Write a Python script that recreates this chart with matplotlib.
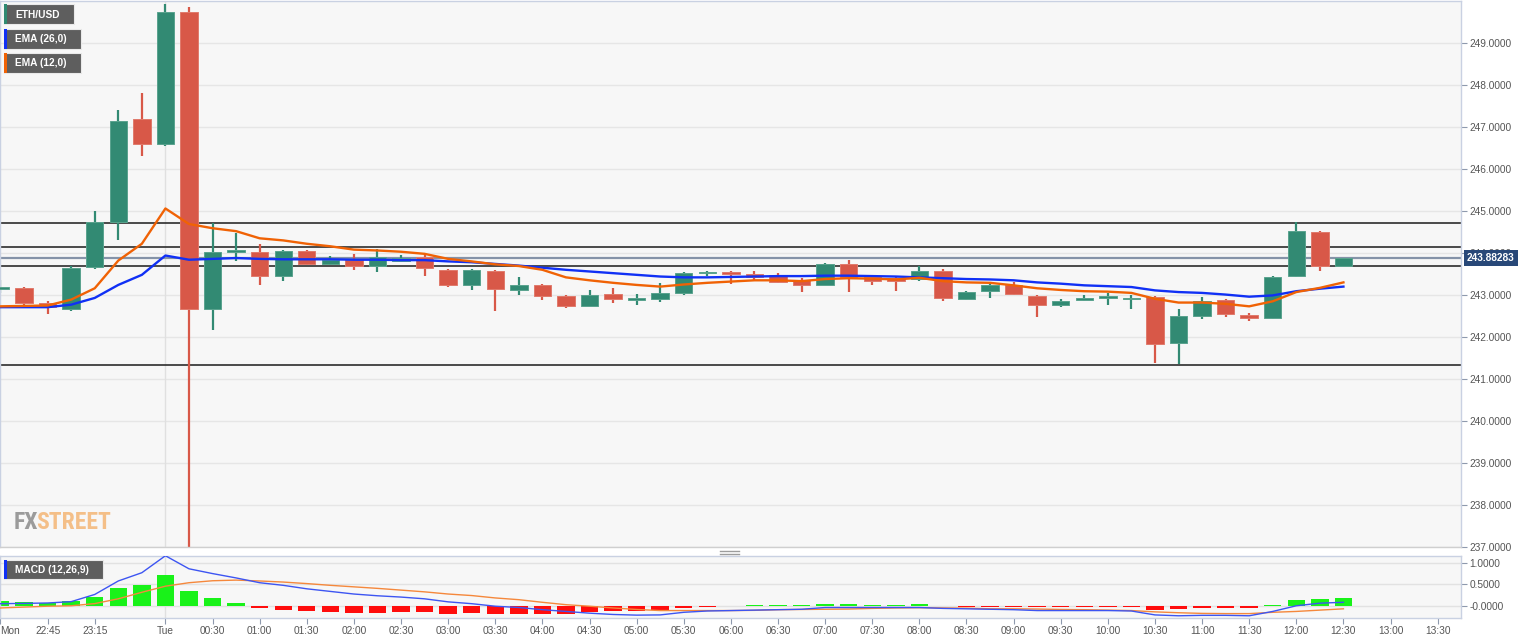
import matplotlib
matplotlib.use('Agg')
import matplotlib.pyplot as plt
import matplotlib.dates as mdates
from matplotlib.patches import Rectangle
from matplotlib.lines import Line2D
from matplotlib import font_manager
import numpy as np
import pandas as pd

plt.rcParams['font.family'] = ['Liberation Sans', 'DejaVu Sans']

# ---------------- data ----------------
start_time = '2020-07-06 22:15'
n_candles = 58
opens = [243.15, 243.16, 242.81, 242.67, 243.66, 244.75, 247.20, 246.60, 249.74, 242.67,
         244.02, 244.02, 243.46, 244.04, 243.74, 243.84, 243.68, 243.82, 243.90, 243.60,
         243.24, 243.58, 243.13, 243.25, 242.97, 242.75, 243.03, 242.89, 242.91, 243.05,
         243.52, 243.55, 243.51, 243.48, 243.35, 243.25, 243.74, 243.42, 243.40, 243.39,
         243.57, 242.91, 243.09, 243.25, 242.97, 242.77, 242.89, 242.93, 242.90, 242.95,
         241.86, 242.51, 242.89, 242.53, 242.45, 243.45, 244.51, 243.70]
highs = [243.35, 243.18, 242.85, 243.68, 244.99, 247.40, 247.82, 249.92, 249.86, 244.71,
         244.47, 244.21, 244.08, 244.07, 243.92, 243.98, 244.10, 243.96, 243.96, 243.62,
         243.62, 243.60, 243.44, 243.27, 243.00, 243.13, 243.17, 243.03, 243.28, 243.55,
         243.56, 243.57, 243.56, 243.52, 243.40, 243.76, 243.84, 243.44, 243.42, 243.70,
         243.61, 243.09, 243.27, 243.32, 242.99, 242.91, 243.00, 243.04, 243.01, 242.97,
         242.67, 242.96, 242.91, 242.57, 243.45, 244.75, 244.53, 243.88]
lows = [243.05, 242.77, 242.55, 242.63, 243.63, 244.30, 246.32, 246.55, 236.50, 242.16,
        243.80, 243.23, 243.33, 243.72, 243.72, 243.60, 243.54, 243.80, 243.45, 243.19,
        243.11, 242.61, 243.00, 242.89, 242.69, 242.73, 242.80, 242.77, 242.83, 242.99,
        243.45, 243.27, 243.33, 243.28, 243.08, 243.23, 243.07, 243.23, 243.09, 243.33,
        242.85, 242.87, 242.93, 243.01, 242.47, 242.71, 242.85, 242.77, 242.67, 241.37,
        241.35, 242.43, 242.47, 242.37, 242.42, 243.43, 243.57, 243.68]
closes = [243.17, 242.82, 242.71, 243.65, 244.75, 247.15, 246.60, 249.74, 242.67, 244.02,
          244.07, 243.45, 244.04, 243.74, 243.84, 243.70, 243.90, 243.88, 243.64, 243.24,
          243.60, 243.14, 243.23, 242.98, 242.73, 243.00, 242.91, 242.92, 243.04, 243.53,
          243.55, 243.50, 243.44, 243.30, 243.23, 243.74, 243.42, 243.33, 243.33, 243.57,
          242.93, 243.07, 243.25, 243.03, 242.77, 242.85, 242.93, 242.97, 242.93, 241.84,
          242.50, 242.85, 242.55, 242.46, 243.42, 244.53, 243.68, 243.88283]
ema12 = [242.73, 242.74, 242.75, 242.89, 243.16, 243.82, 244.22, 245.06, 244.69, 244.59,
         244.52, 244.35, 244.30, 244.22, 244.16, 244.08, 244.06, 244.03, 243.98, 243.86,
         243.80, 243.73, 243.69, 243.60, 243.42, 243.35, 243.29, 243.24, 243.20, 243.25,
         243.29, 243.32, 243.35, 243.35, 243.33, 243.38, 243.40, 243.39, 243.37, 243.41,
         243.33, 243.30, 243.29, 243.23, 243.16, 243.12, 243.09, 243.08, 243.05, 242.91,
         242.82, 242.82, 242.79, 242.73, 242.85, 243.07, 243.17, 243.30]
ema26 = [242.71, 242.71, 242.71, 242.77, 242.93, 243.24, 243.48, 243.94, 243.84, 243.86,
         243.88, 243.86, 243.85, 243.85, 243.85, 243.84, 243.84, 243.83, 243.83, 243.80,
         243.78, 243.74, 243.70, 243.65, 243.60, 243.56, 243.52, 243.48, 243.44, 243.42,
         243.42, 243.43, 243.44, 243.45, 243.45, 243.46, 243.46, 243.45, 243.44, 243.42,
         243.40, 243.38, 243.37, 243.35, 243.30, 243.27, 243.23, 243.21, 243.19, 243.11,
         243.07, 243.05, 243.01, 242.96, 242.99, 243.09, 243.15, 243.20]
macd_hist = [0.12, 0.10, 0.074, 0.128, 0.21, 0.42, 0.48, 0.72, 0.35, 0.18,
             0.07, -0.04, -0.08, -0.12, -0.135, -0.16, -0.16, -0.14, -0.14, -0.175,
             -0.16, -0.175, -0.17, -0.175, -0.18, -0.14, -0.12, -0.105, -0.08, -0.043,
             -0.01, 0.01, 0.027, 0.027, 0.02, 0.058, 0.05, 0.027, 0.02, 0.058,
             0.0, -0.01, -0.01, -0.027, -0.027, -0.027, -0.027, -0.027, -0.02, -0.08,
             -0.065, -0.035, -0.035, -0.035, 0.035, 0.15, 0.167, 0.18]
macd_line = [0.058, 0.065, 0.074, 0.105, 0.27, 0.58, 0.77, 1.16, 0.86, 0.75,
             0.65, 0.54, 0.48, 0.40, 0.34, 0.28, 0.24, 0.21, 0.17, 0.10,
             0.058, 0.0, -0.03, -0.08, -0.12, -0.16, -0.19, -0.205, -0.20, -0.14,
             -0.11, -0.10, -0.09, -0.08, -0.07, -0.03, -0.03, -0.03, -0.03, -0.03,
             -0.05, -0.06, -0.07, -0.08, -0.10, -0.10, -0.10, -0.10, -0.11, -0.20,
             -0.22, -0.21, -0.21, -0.22, -0.12, 0.01, 0.07, 0.09]
signal_line = [-0.04, -0.02, 0.0, 0.01, 0.06, 0.17, 0.32, 0.46, 0.54, 0.585,
               0.60, 0.58, 0.555, 0.52, 0.48, 0.445, 0.41, 0.37, 0.33, 0.28,
               0.245, 0.19, 0.15, 0.09, 0.035, 0.0, -0.04, -0.075, -0.10, -0.10,
               -0.10, -0.10, -0.095, -0.08, -0.075, -0.07, -0.065, -0.05, -0.04, -0.035,
               -0.04, -0.045, -0.06, -0.06, -0.065, -0.075, -0.08, -0.09, -0.10, -0.13,
               -0.15, -0.165, -0.17, -0.17, -0.14, -0.12, -0.09, -0.06]
level_lines = [244.71, 244.15, 243.70, 241.34]
last_price = 243.88283
price_ticks = [237, 238, 239, 240, 241, 242, 243, 244, 245, 246, 247, 248, 249]
macd_ticks = [1.0, 0.5, 0.0]
macd_tick_labels = ['1.0000', '0.5000', '-0.0000']
time_ticks = ['2020-07-06 22:15', '2020-07-06 22:45', '2020-07-06 23:15', '2020-07-07 00:00',
              '2020-07-07 00:30', '2020-07-07 01:00', '2020-07-07 01:30', '2020-07-07 02:00',
              '2020-07-07 02:30', '2020-07-07 03:00', '2020-07-07 03:30', '2020-07-07 04:00',
              '2020-07-07 04:30', '2020-07-07 05:00', '2020-07-07 05:30', '2020-07-07 06:00',
              '2020-07-07 06:30', '2020-07-07 07:00', '2020-07-07 07:30', '2020-07-07 08:00',
              '2020-07-07 08:30', '2020-07-07 09:00', '2020-07-07 09:30', '2020-07-07 10:00',
              '2020-07-07 10:30', '2020-07-07 11:00', '2020-07-07 11:30', '2020-07-07 12:00',
              '2020-07-07 12:30', '2020-07-07 13:00', '2020-07-07 13:30']
time_tick_labels = ['Mon', '22:45', '23:15', 'Tue', '00:30', '01:00', '01:30', '02:00',
                    '02:30', '03:00', '03:30', '04:00', '04:30', '05:00', '05:30', '06:00',
                    '06:30', '07:00', '07:30', '08:00', '08:30', '09:00', '09:30', '10:00',
                    '10:30', '11:00', '11:30', '12:00', '12:30', '13:00', '13:30']
day_break = '2020-07-07 00:00'

# ---------------- style ----------------
W, H = 1536, 641
GREEN = '#328a73'
RED = '#d85848'
GREEN_EDGE = '#5aa38e'
RED_EDGE = '#e07a6c'
BG = '#f7f7f7'
GRID = '#e6e6e6'
SPINE = '#c9d1e2'
TXT = '#555555'
FS = 7.3

times = pd.date_range(start_time, periods=n_candles, freq='15min')
x = mdates.date2num(times)
period = 15.0 / 1440.0
o = np.array(opens); c = np.array(closes); hi = np.array(highs); lo = np.array(lows)
up = c >= o

fig = plt.figure(figsize=(W / 100, H / 100), dpi=100)
fig.patch.set_facecolor('white')

def fx(px):
    return px / W

def fy(py):
    return 1 - py / H

ax = fig.add_axes([0, fy(547), fx(1461), (547 - 1) / H])
ax2 = fig.add_axes([0, fy(618), fx(1461), (618 - 556) / H])

xlim = (x[0] - 0.021 * period, x[0] + 61.99 * period)

# ----- main panel -----
ax.set_facecolor(BG)
ax.set_xlim(*xlim)
ax.set_ylim(237, 250.0)
ax.yaxis.tick_right()
ax.set_yticks(price_ticks)
ax.set_yticklabels(['%.4f' % v for v in price_ticks])
ax.tick_params(axis='y', length=4, width=0.8, color='#8e99ad', pad=2.2,
               labelsize=FS, labelcolor=TXT)
ax.tick_params(axis='x', length=0, labelbottom=False)
ax.grid(axis='y', color=GRID, lw=1)
ax.set_axisbelow(True)
for s in ax.spines.values():
    s.set_color(SPINE)
    s.set_linewidth(1)
ax.spines['bottom'].set_color('#cfcfcf')

dbx = mdates.date2num(pd.Timestamp(day_break))
ax.axvline(dbx, color='#e0e0e0', lw=1, zorder=0.8)

for lv in level_lines:
    ax.axhline(lv, color='#2d2d2d', lw=1.2, zorder=1.5)
ax.axhline(last_price, color='#8593a8', lw=1.6, zorder=1.6)

cw = 0.74 * period
ax.vlines(x, lo, hi, colors=[GREEN if u else RED for u in up], lw=1.6, zorder=2)
body_h = np.maximum(np.abs(c - o), 0.03)
ax.bar(x, body_h, bottom=np.minimum(o, c), width=cw,
       color=[GREEN if u else RED for u in up],
       edgecolor=[GREEN_EDGE if u else RED_EDGE for u in up], linewidth=0.7, zorder=3)

ax.plot(x, ema26, color='#1030f5', lw=1.7, zorder=4, solid_joinstyle='round')
ax.plot(x, ema12, color='#f06205', lw=1.7, zorder=4, solid_joinstyle='round')

ax.annotate('%.5f' % last_price, xy=(1.0041, last_price), xycoords=('axes fraction', 'data'),
            ha='left', va='center', fontsize=FS, color='white', fontweight='bold',
            annotation_clip=False, zorder=10,
            bbox=dict(boxstyle='square,pad=0.3', fc='#284878', ec='none'))

# watermark (prefer a condensed face when one is installed)
ttf = font_manager.fontManager.ttflist
names = {f.name for f in ttf}
wm_kw = dict(family=['Liberation Sans'])
for cand in ['Roboto Condensed', 'Liberation Sans Narrow', 'Noto Sans Condensed',
             'Open Sans Condensed', 'Noto Sans SemiCondensed', 'DejaVu Sans Condensed']:
    if cand in names:
        wm_kw = dict(family=[cand])
        break
else:
    conds = [f for f in ttf if str(f.stretch) in ('condensed', 'extra-condensed', 'semi-condensed')
             and f.name in ('Roboto', 'Noto Sans', 'Open Sans', 'Lato', 'Inter')]
    if conds:
        wm_kw = dict(family=[conds[0].name], fontstretch=conds[0].stretch)

wm_fs = 18
t1 = ax.text(fx(14), fy(529), 'FX', transform=fig.transFigure, fontweight='bold',
             fontsize=wm_fs, color='#9b9b9b', va='baseline', ha='left', zorder=1, **wm_kw)
t2 = ax.annotate('STREET', xy=(1, 0), xycoords=t1, xytext=(-1.8, 0), textcoords='offset points',
                 fontweight='bold', fontsize=wm_fs, color='#f4bf88', va='bottom', ha='left',
                 zorder=1, **wm_kw)

# ----- MACD panel -----
ax2.set_facecolor(BG)
ax2.set_xlim(*xlim)
ax2.set_ylim(-0.271, 1.154)
ax2.yaxis.tick_right()
ax2.set_yticks(macd_ticks)
ax2.set_yticklabels(macd_tick_labels)
ax2.tick_params(axis='y', length=4, width=0.8, color='#8e99ad', pad=2.2,
                labelsize=FS, labelcolor=TXT)
ax2.grid(axis='y', color='#e2e2e2', lw=1)
ax2.set_axisbelow(True)
for s in ax2.spines.values():
    s.set_color(SPINE)
    s.set_linewidth(1)
ax2.axvline(dbx, color='#e0e0e0', lw=1, zorder=0.8)

tick_x = mdates.date2num(pd.to_datetime(time_ticks))
ax2.set_xticks(tick_x)
ax2.set_xticklabels(time_tick_labels)
ax2.tick_params(axis='x', length=4, width=0.8, color='#8e99ad', pad=2,
                labelsize=FS, labelcolor=TXT)
ax2.get_xticklabels()[0].set_horizontalalignment('left')

hist = np.array(macd_hist)
ax2.bar(x, hist, width=cw, color=['#19f219' if v >= 0 else '#ff0d0d' for v in hist],
        linewidth=0, zorder=2)
ax2.plot(x, signal_line, color='#f5883c', lw=1.0, zorder=3)
ax2.plot(x, macd_line, color='#3d55f2', lw=1.0, zorder=3)

# ----- legend boxes -----
def label_box(x0, y0, x1, y1, stripe, text):
    fig.patches.append(Rectangle((fx(x0), fy(y1)), fx(x1 - x0), (y1 - y0) / H,
                                 transform=fig.transFigure, fc='#5e5e5e', ec='#e9e9e9',
                                 lw=0.8, zorder=20))
    fig.patches.append(Rectangle((fx(x0), fy(y1)), fx(3), (y1 - y0) / H,
                                 transform=fig.transFigure, fc=stripe, ec='none', zorder=21))
    fig.text(fx(15), fy((y0 + y1) / 2 + 0.5), text, color='white', fontweight='bold',
             fontsize=FS, va='center', ha='left', zorder=22)

label_box(4, 4, 74, 24, '#2f8a72', 'ETH/USD')
label_box(4, 29, 81, 49, '#1030f5', 'EMA (26,0)')
label_box(4, 53, 81, 73, '#f06205', 'EMA (12,0)')
label_box(4, 560, 103, 579, '#1030f5', 'MACD (12,26,9)')

# panel resize handle
for yy in (551.0, 553.5):
    fig.add_artist(Line2D([fx(720), fx(739)], [fy(yy), fy(yy)], color='#9d9d9d', lw=1,
                          transform=fig.transFigure))

# fit watermark width to the reference (about 97 px)
fig.canvas.draw()
r = fig.canvas.get_renderer()
wdt = t2.get_window_extent(r).x1 - t1.get_window_extent(r).x0
new_fs = wm_fs * 97.0 / wdt
t1.set_fontsize(new_fs)
t2.set_fontsize(new_fs)

fig.savefig('out.png', dpi=100, facecolor='white')
